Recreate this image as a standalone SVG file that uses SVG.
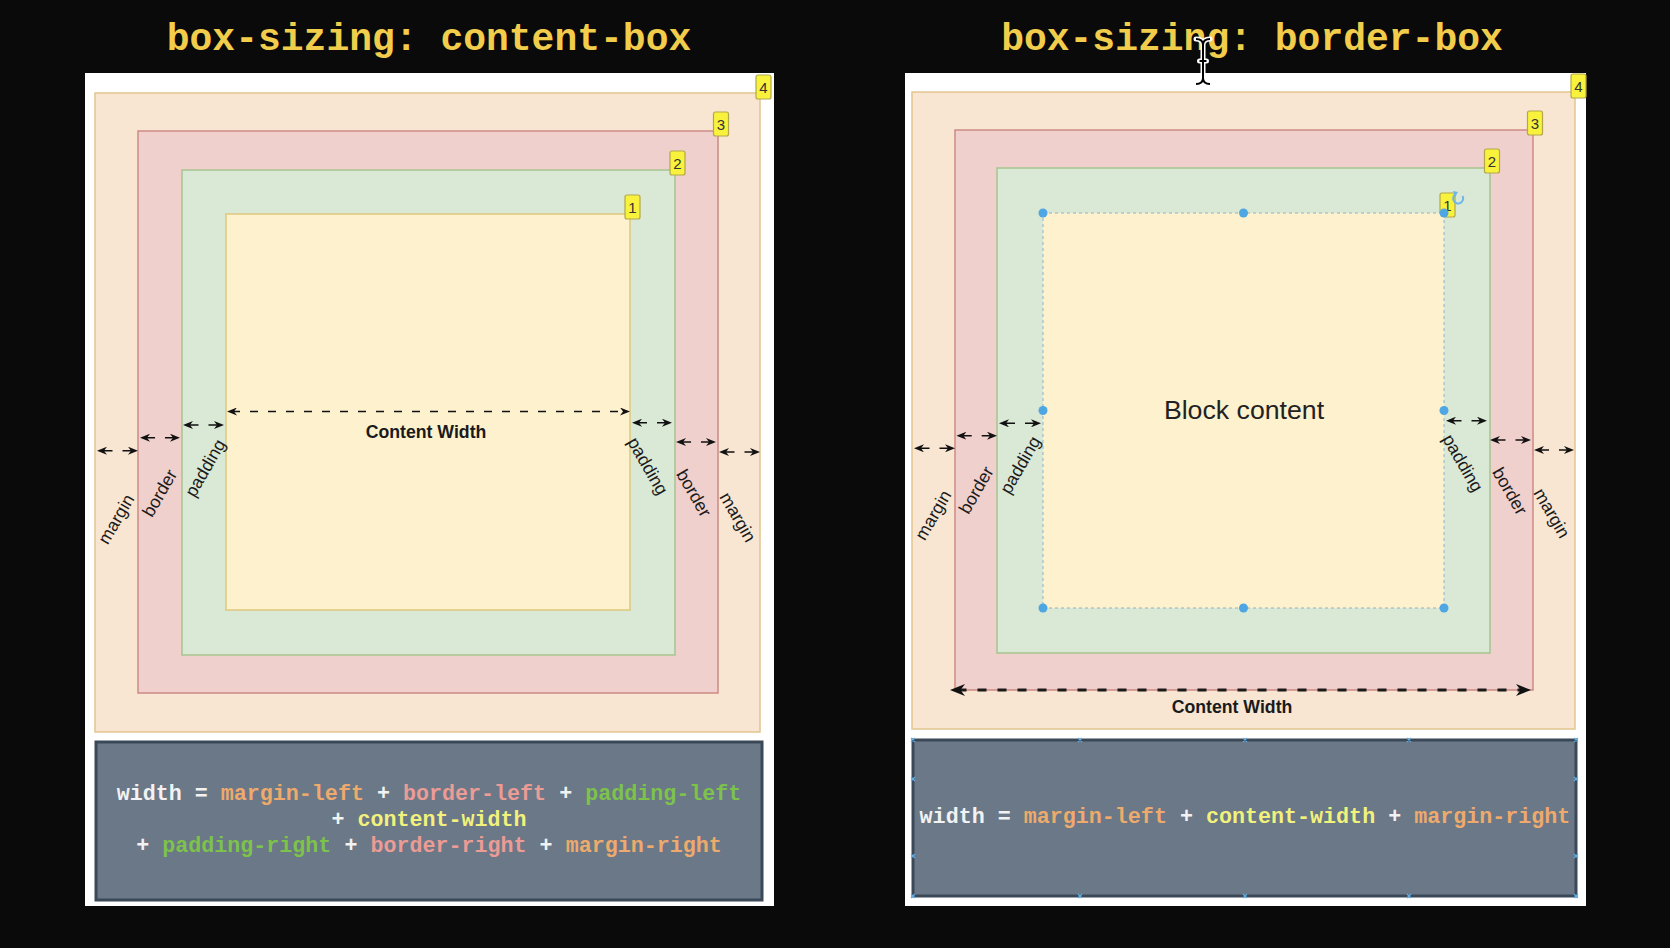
<svg xmlns="http://www.w3.org/2000/svg" width="1670" height="948" viewBox="0 0 1670 948">
<style>
.title{font-family:"Liberation Mono","Courier New",monospace;font-weight:bold;font-size:38px;fill:#F1CD4B}
.panel{fill:#ffffff}
.mar{fill:#F8E5D2;stroke:#E2C58E;stroke-width:1.5}
.bor{fill:#F0D0CC;stroke:#CD8A85;stroke-width:1.5}
.pad{fill:#DAE8D6;stroke:#A6C48F;stroke-width:1.5}
.con{fill:#FDF1CE;stroke:#DEC87D;stroke-width:1.5}
.sel{fill:#FDF1CE;stroke:#8FB2CC;stroke-width:1;stroke-dasharray:3 3}
.handle{fill:#4EA6E2}
.badge rect{fill:#F9F23C;stroke:#B2A74A;stroke-width:1.2}
.badge text{font-family:"Liberation Sans",Arial,sans-serif;font-size:15px;fill:#333;text-anchor:middle}
.lbl{font-family:"Liberation Sans",Arial,sans-serif;font-size:17.7px;fill:#1a1a1a;text-anchor:middle}
.cw{font-family:"Liberation Sans",Arial,sans-serif;font-size:17.7px;font-weight:bold;fill:#1a1a1a;text-anchor:middle}
.blk{font-family:"Liberation Sans",Arial,sans-serif;font-size:26.7px;fill:#222;text-anchor:middle}
.fbox{fill:#6A7887;stroke:#3B4858;stroke-width:3}
.ftxt{font-family:"Liberation Mono","Courier New",monospace;font-weight:bold;font-size:21.7px;text-anchor:middle}
.w{fill:#F2F2F2}.o{fill:#EEAA6C}.p{fill:#EC9B95}.g{fill:#7DC24B}.y{fill:#F1F17C}
.arr{stroke:#111;stroke-width:1.5;fill:none;marker-start:url(#ah);marker-end:url(#ah)}
.dash{stroke:#111;stroke-width:1.5;fill:none;stroke-dasharray:8 10;marker-start:url(#ah);marker-end:url(#ah)}
.dashbig{stroke:#1a1a1a;stroke-width:3;fill:none;stroke-dasharray:9 11;marker-start:url(#ahb);marker-end:url(#ahb)}
.mk{stroke:#63ADE3;stroke-width:1.3;fill:none}
</style>
<defs>
<marker id="ah" viewBox="0 0 10 8" refX="5" refY="4" markerWidth="10" markerHeight="8" markerUnits="userSpaceOnUse" orient="auto-start-reverse"><path d="M0,0 L10,4 L0,8 L3,4 z" fill="#111"/></marker>
<marker id="ahb" viewBox="0 0 10 8" refX="5" refY="4" markerWidth="15" markerHeight="12" markerUnits="userSpaceOnUse" orient="auto-start-reverse"><path d="M0,0 L10,4 L0,8 L3,4 z" fill="#111"/></marker>
</defs>
<rect x="0" y="0" width="1670" height="948" fill="#0A0A0A"/>

<text class="title" x="429" y="50" text-anchor="middle">box-sizing: content-box</text>
<text class="title" x="1252" y="50" text-anchor="middle">box-sizing: border-box</text>

<!-- LEFT: content-box -->
<g id="left-panel"><rect class="panel" x="85" y="73" width="689" height="833"/></g>
<g id="left-margin"><rect class="mar" x="95" y="93" width="665" height="639"/></g>
<g id="left-border"><rect class="bor" x="138" y="131" width="580" height="562"/></g>
<g id="left-padding"><rect class="pad" x="182" y="170" width="493" height="485"/></g>
<g id="left-content"><rect class="con" x="226" y="214" width="404" height="396"/></g>
<g id="left-badge-4" class="badge"><rect x="756" y="75" width="15" height="24" rx="2"/><text x="763.5" y="92.5">4</text></g>
<g id="left-badge-3" class="badge"><rect x="713.5" y="112" width="15" height="24" rx="2"/><text x="721" y="129.5">3</text></g>
<g id="left-badge-2" class="badge"><rect x="670" y="151" width="15" height="24" rx="2"/><text x="677.5" y="168.5">2</text></g>
<g id="left-badge-1" class="badge"><rect x="625" y="195" width="15" height="24" rx="2"/><text x="632.5" y="212.5">1</text></g>
<g id="left-labels">
<text class="cw" x="426" y="438.3">Content Width</text>
<text class="lbl" transform="translate(116,519) rotate(-60)" dy="0.35em">margin</text>
<text class="lbl" transform="translate(159.5,493) rotate(-60)" dy="0.35em">border</text>
<text class="lbl" transform="translate(205,468) rotate(-60)" dy="0.35em">padding</text>
<text class="lbl" transform="translate(648,466) rotate(60)" dy="0.35em">padding</text>
<text class="lbl" transform="translate(694,493) rotate(60)" dy="0.35em">border</text>
<text class="lbl" transform="translate(738,517) rotate(60)" dy="0.35em">margin</text>
</g>
<g id="left-formula">
<rect class="fbox" x="96" y="742" width="666" height="158"/>
<text class="ftxt" x="429" y="800"><tspan class="w">width = </tspan><tspan class="o">margin-left</tspan><tspan class="w"> + </tspan><tspan class="p">border-left</tspan><tspan class="w"> + </tspan><tspan class="g">padding-left</tspan></text>
<text class="ftxt" x="429" y="826"><tspan class="w">+ </tspan><tspan class="y">content-width</tspan></text>
<text class="ftxt" x="429" y="852"><tspan class="w">+ </tspan><tspan class="g">padding-right</tspan><tspan class="w"> + </tspan><tspan class="p">border-right</tspan><tspan class="w"> + </tspan><tspan class="o">margin-right</tspan></text>
</g>

<!-- RIGHT: border-box -->
<g id="right-panel"><rect class="panel" x="905" y="73" width="681" height="833"/></g>
<g id="right-margin"><rect class="mar" x="912" y="92" width="663" height="637"/></g>
<g id="right-border"><rect class="bor" x="955" y="130" width="578" height="560"/></g>
<g id="right-padding"><rect class="pad" x="997" y="168" width="493" height="485"/></g>
<g id="right-badge-4" class="badge"><rect x="1571" y="74" width="15" height="24" rx="2"/><text x="1578.5" y="91.5">4</text></g>
<g id="right-badge-3" class="badge"><rect x="1527.5" y="111" width="15" height="24" rx="2"/><text x="1535" y="128.5">3</text></g>
<g id="right-badge-2" class="badge"><rect x="1484.5" y="149" width="15" height="24" rx="2"/><text x="1492" y="166.5">2</text></g>
<g id="right-badge-1" class="badge"><rect x="1440" y="193" width="15" height="24" rx="2"/><text x="1447.5" y="210.5">1</text></g>
<g id="right-content">
<rect class="sel" x="1043" y="213" width="401" height="395"/>
<text class="blk" x="1244" y="418.5">Block content</text>
<circle class="handle" cx="1043" cy="213" r="4.5"/><circle class="handle" cx="1243.5" cy="213" r="4.5"/><circle class="handle" cx="1444" cy="213" r="4.5"/>
<circle class="handle" cx="1043" cy="410.5" r="4.5"/><circle class="handle" cx="1444" cy="410.5" r="4.5"/>
<circle class="handle" cx="1043" cy="608" r="4.5"/><circle class="handle" cx="1243.5" cy="608" r="4.5"/><circle class="handle" cx="1444" cy="608" r="4.5"/>
<path d="M1462.5,196 A5,5 0 1 1 1456,194" stroke="#6DB6EA" stroke-width="2" fill="none"/>
<path d="M1453,191 L1458,192 L1455,197 z" fill="#6DB6EA"/>
</g>
<g id="right-labels">
<text class="cw" x="1232" y="713.3">Content Width</text>
<text class="lbl" transform="translate(933,515) rotate(-60)" dy="0.35em">margin</text>
<text class="lbl" transform="translate(976,490) rotate(-60)" dy="0.35em">border</text>
<text class="lbl" transform="translate(1020,465) rotate(-60)" dy="0.35em">padding</text>
<text class="lbl" transform="translate(1463,463) rotate(60)" dy="0.35em">padding</text>
<text class="lbl" transform="translate(1510,491) rotate(60)" dy="0.35em">border</text>
<text class="lbl" transform="translate(1552,513) rotate(60)" dy="0.35em">margin</text>
</g>
<g id="right-formula">
<rect class="fbox" x="913" y="740" width="663" height="156"/>
<text class="ftxt" x="1245" y="823"><tspan class="w">width = </tspan><tspan class="o">margin-left</tspan><tspan class="w"> + </tspan><tspan class="y">content-width</tspan><tspan class="w"> + </tspan><tspan class="o">margin-right</tspan></text>
<path class="mk" d="M911,738l4,4m0,-4l-4,4 M1078,738l4,4m0,-4l-4,4 M1243,738l4,4m0,-4l-4,4 M1407,738l4,4m0,-4l-4,4 M1574,738l4,4m0,-4l-4,4 M911,894l4,4m0,-4l-4,4 M1078,894l4,4m0,-4l-4,4 M1243,894l4,4m0,-4l-4,4 M1407,894l4,4m0,-4l-4,4 M1574,894l4,4m0,-4l-4,4 M911,777l4,4m0,-4l-4,4 M911,854l4,4m0,-4l-4,4 M1574,777l4,4m0,-4l-4,4 M1574,854l4,4m0,-4l-4,4"/>
</g>

<g id="cursor">
<path d="M1196,39 Q1203,39 1203,45 Q1203,39 1210,39 M1203,45 L1203,78 M1196,84 Q1203,84 1203,78 Q1203,84 1210,84 M1199.5,61 L1206.5,61" stroke="#ffffff" stroke-width="5" fill="none" stroke-linecap="round"/>
<path d="M1196,39 Q1203,39 1203,45 Q1203,39 1210,39 M1203,45 L1203,78 M1196,84 Q1203,84 1203,78 Q1203,84 1210,84 M1199.5,61 L1206.5,61" stroke="#000000" stroke-width="2" fill="none"/>
</g>

<g id="connectors">
<!-- left panel -->
<line class="dash" x1="232" y1="411.5" x2="625" y2="411.5"/>
<path class="arr" d="M102,450.7 L112.5,450.7 M122.5,450.7 L133,450.7"/>
<path class="arr" d="M145,437.7 L155,437.7 M165,437.7 L175,437.7"/>
<path class="arr" d="M188,425 L198.5,425 M208.5,425 L219,425"/>
<path class="arr" d="M637,422.7 L647,422.7 M657,422.7 L667,422.7"/>
<path class="arr" d="M681,442 L691,442 M701,442 L711,442"/>
<path class="arr" d="M724,452 L734.5,452 M744.5,452 L755,452"/>
<!-- right panel -->
<line class="dashbig" x1="957.5" y1="690" x2="1523.5" y2="690"/>
<path class="arr" d="M919,448.3 L929.5,448.3 M939.5,448.3 L950,448.3"/>
<path class="arr" d="M961.4,435.7 L971.7,435.7 M981.7,435.7 L992,435.7"/>
<path class="arr" d="M1004,423.3 L1015,423.3 M1025,423.3 L1036,423.3"/>
<path class="arr" d="M1451,420.7 L1461.5,420.7 M1471.5,420.7 L1482,420.7"/>
<path class="arr" d="M1495,440 L1505.5,440 M1515.5,440 L1526,440"/>
<path class="arr" d="M1539,450 L1549,450 M1559,450 L1569,450"/>
</g>
</svg>
